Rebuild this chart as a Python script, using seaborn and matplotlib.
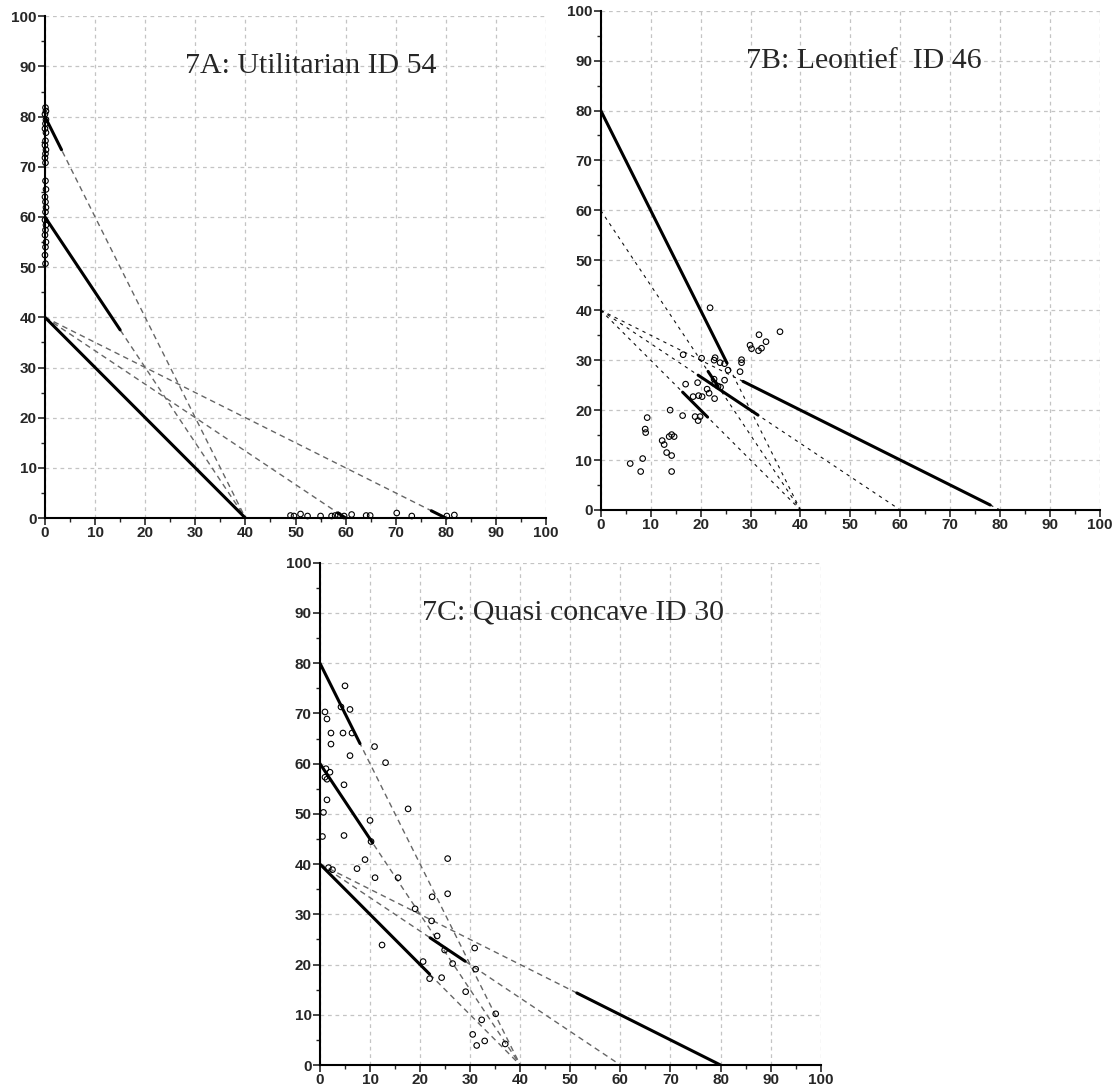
import numpy as np
import pandas as pd
import seaborn as sns
import matplotlib.pyplot as plt
from matplotlib.ticker import MultipleLocator

sns.set_style("white")
plt.rcParams['font.family'] = ['Liberation Sans Narrow', 'Liberation Sans', 'DejaVu Sans']

# budget lines (same five in every panel): y-intercept / x-intercept
y_int = [80, 60, 40, 40, 40]
x_int = [40, 40, 40, 60, 80]

# part of each budget line drawn solid (x start, x end)
solid_a_start = [0, 0, 0, 58.5, 77.1]
solid_a_end = [3.3, 15, 40, 60, 80]
solid_b_start = [0, 21.5, 16.4, 19.5, 28.5]
solid_b_end = [25.3, 23.5, 21.4, 31.5, 78]
solid_c_start = [0, 0, 0, 22, 51.3]
solid_c_end = [8, 10.5, 21.9, 29, 80]

# chosen bundles
a_x = [0.1, 0.2, 0.0, 0.2, 0.1, 0.0, 0.2, 0.1, 0.0, 0.2, 0.1, 0.0, 0.1,
       0.1, 0.2, 0.0, 0.1, 0.2, 0.1, 0.0, 0.2, 0.1, 0.0, 0.2, 0.1, 0.0, 0.1,
       49.0, 49.7, 51.0, 52.4, 55.0, 57.2, 57.9, 58.5, 59.7, 61.2, 64.1, 64.9,
       70.2, 73.2, 80.2, 81.7]
a_y = [81.8, 81.1, 80.5, 79.4, 78.6, 77.6, 76.8, 75.2, 74.3, 73.4, 72.6, 71.8, 70.8,
       67.2, 65.5, 64.0, 63.0, 61.9, 61.0, 59.4, 58.4, 57.4, 56.4, 55.0, 54.0, 52.4, 50.7,
       0.5, 0.4, 0.8, 0.4, 0.4, 0.4, 0.5, 0.6, 0.4, 0.7, 0.5, 0.5,
       1.0, 0.4, 0.4, 0.6]

b_x = [21.9, 31.7, 35.9, 33.1, 29.9, 30.2, 32.2, 31.6, 28.2, 28.2, 27.9, 16.5,
       20.2, 22.9, 22.7, 23.9, 24.8, 25.5, 17.0, 19.4, 22.7, 24.8, 21.3, 21.7,
       23.5, 24.0, 22.8, 18.5, 19.6, 20.3, 22.8, 16.4, 18.9, 19.9, 19.5, 13.9,
       9.3, 8.9, 9.0, 12.3, 12.7, 13.7, 14.2, 14.7, 13.2, 14.2, 8.4, 5.9, 8.0, 14.2]
b_y = [40.5, 35.1, 35.7, 33.7, 33.0, 32.3, 32.4, 31.9, 30.1, 29.5, 27.7, 31.1,
       30.4, 30.5, 30.0, 29.5, 29.3, 28.0, 25.2, 25.5, 26.2, 26.0, 24.2, 23.4,
       24.8, 24.6, 25.3, 22.7, 22.9, 22.7, 22.3, 18.9, 18.7, 18.7, 17.9, 20.0,
       18.5, 16.2, 15.5, 13.9, 13.1, 14.7, 15.1, 14.7, 11.5, 10.9, 10.3, 9.3, 7.7, 7.7]

c_x = [5.0, 4.2, 6.0, 1.0, 1.4, 2.2, 4.6, 6.4, 2.2, 10.9, 6.0, 13.1, 1.2, 2.0,
       1.0, 1.4, 4.8, 1.4, 17.6, 0.7, 10.0, 0.5, 4.8, 10.2, 9.0, 7.4, 11.0, 15.6,
       25.5, 25.5, 22.4, 19.0, 22.3, 23.4, 12.4, 30.9, 24.9, 26.5, 20.6, 31.1,
       21.9, 24.3, 29.1, 35.1, 32.3, 30.5, 32.9, 31.3, 37.0, 1.7, 2.5]
c_y = [75.5, 71.3, 70.8, 70.3, 68.9, 66.1, 66.1, 66.1, 63.9, 63.4, 61.6, 60.2, 59.0, 58.3,
       57.3, 56.9, 55.8, 52.8, 51.0, 50.3, 48.7, 45.5, 45.7, 44.5, 40.9, 39.1, 37.3, 37.3,
       41.1, 34.1, 33.5, 31.1, 28.7, 25.7, 23.9, 23.3, 22.9, 20.2, 20.6, 19.1,
       17.2, 17.4, 14.6, 10.2, 9.0, 6.1, 4.8, 3.9, 4.2, 39.3, 38.9]

titles = ["7A: Utilitarian ID 54", "7B: Leontief  ID 46", "7C: Quasi concave ID 30"]
title_x = [28, 29, 20.3]

fig = plt.figure(figsize=(11.16, 10.86), dpi=100)
axes = [
    fig.add_axes([0.0403, 0.523, 0.449, 0.462]),
    fig.add_axes([0.5383, 0.5304, 0.4474, 0.4598]),
    fig.add_axes([0.2867, 0.0193, 0.4487, 0.4625]),
]

panels = [
    (a_x, a_y, solid_a_start, solid_a_end, "#666666", (4, 3), 1.0),
    (b_x, b_y, solid_b_start, solid_b_end, "#111111", (3, 4), 0.8),
    (c_x, c_y, solid_c_start, solid_c_end, "#666666", (4, 3), 1.0),
]


def line_y(x, yi, xi):
    return yi * (1 - np.asarray(x, dtype=float) / xi)


for ax, (px, py, s0, s1, dcol, dash, dlw), title, tx in zip(axes, panels, titles, title_x):
    # dashed budget lines
    for yi, xi in zip(y_int, x_int):
        xs = [0, xi]
        ax.plot(xs, line_y(xs, yi, xi), color=dcol, lw=dlw, dashes=dash, zorder=2)
    # solid chosen segments
    for yi, xi, a, b in zip(y_int, x_int, s0, s1):
        seg = pd.DataFrame({"x": [a, b], "y": line_y([a, b], yi, xi)})
        sns.lineplot(data=seg, x="x", y="y", ax=ax, color="black", lw=2.2,
                     sort=False, estimator=None, zorder=3)
    pts = pd.DataFrame({"x": px, "y": py})
    sns.scatterplot(data=pts, x="x", y="y", ax=ax, marker="o", s=16,
                    facecolor="none", edgecolor="black", linewidth=0.8,
                    clip_on=False, zorder=4)

    ax.set_xlim(0, 100)
    ax.set_ylim(0, 100)
    ax.set_xlabel("")
    ax.set_ylabel("")
    ax.xaxis.set_major_locator(MultipleLocator(10))
    ax.yaxis.set_major_locator(MultipleLocator(10))
    ax.xaxis.set_minor_locator(MultipleLocator(5))
    ax.yaxis.set_minor_locator(MultipleLocator(5))
    ax.tick_params(which="major", direction="out", length=5, width=1.2,
                   labelsize=11, pad=1, bottom=True, left=True)
    ax.tick_params(which="minor", direction="out", length=3, width=1,
                   bottom=True, left=True)
    for lab in ax.get_xticklabels() + ax.get_yticklabels():
        lab.set_fontweight("bold")
    ax.grid(True, which="major", color="#c4c4c4", lw=0.9, dashes=(3, 3))
    ax.set_axisbelow(True)
    for side in ["top", "right"]:
        ax.spines[side].set_visible(False)
    for side in ["left", "bottom"]:
        ax.spines[side].set_color("black")
        ax.spines[side].set_linewidth(1.5)
    ax.text(tx, 90, title, fontsize=21.5, family=["Liberation Serif", "DejaVu Serif"],
            va="center", ha="left")

fig.savefig("out.png", dpi=100)
